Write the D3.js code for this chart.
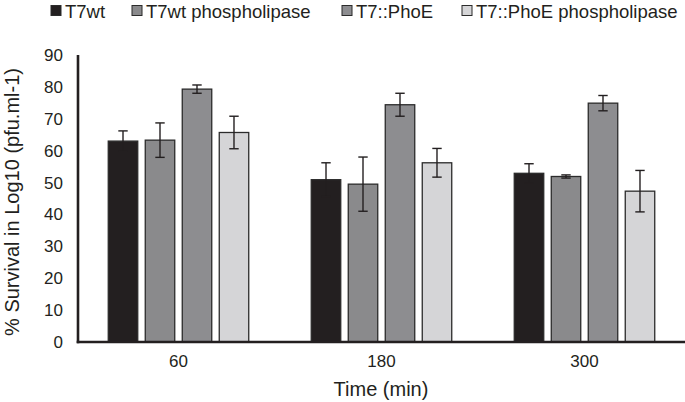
<!DOCTYPE html>
<html><head><meta charset="utf-8">
<script src="https://cdn.jsdelivr.net/npm/d3@7"></script>
<style>body{margin:0;background:#fff}svg{display:block}text{font-family:"Liberation Sans",Arial,sans-serif;fill:#231f20}</style>
</head><body><svg id="c" width="685" height="402"></svg>
<script>
const categories = ["60", "180", "300"];
const seriesNames = ["T7wt", "T7wt phospholipase", "T7::PhoE", "T7::PhoE phospholipase"];
const t7wt = [63.0, 50.9, 52.9];
const t7wtErr = [3.2, 5.3, 3.0];
const t7wtPhos = [63.3, 49.5, 51.9];
const t7wtPhosErr = [5.4, 8.5, 0.5];
const phoE = [79.3, 74.4, 74.9];
const phoEErr = [1.3, 3.6, 2.4];
const phoEPhos = [65.7, 56.2, 47.3];
const phoEPhosErr = [5.1, 4.5, 6.5];
const yTicks = [0, 10, 20, 30, 40, 50, 60, 70, 80, 90];
const colors = ["#231f20", "#8a8a8c", "#8d8d90", "#d5d5d7"];

const values = [t7wt, t7wtPhos, phoE, phoEPhos];
const errs = [t7wtErr, t7wtPhosErr, phoEErr, phoEPhosErr];
const rows = [];
categories.forEach((c, i) => seriesNames.forEach((s, j) => rows.push({cat: c, s, v: values[j][i], e: errs[j][i], j})));

const svg = d3.select("#c");
const x0 = d3.scaleBand().domain(categories).range([77, 686]).padding(0);
const x1 = d3.scaleBand().domain(seriesNames).range([0, x0.bandwidth()]).paddingInner(0.203).paddingOuter(0.845);
const y = d3.scaleLinear().domain([0, 90]).range([342, 55]);

// bars
svg.append("g").selectAll("rect").data(rows).join("rect")
  .attr("x", d => x0(d.cat) + x1(d.s))
  .attr("y", d => y(d.v))
  .attr("width", x1.bandwidth())
  .attr("height", d => y(0) - y(d.v))
  .attr("fill", d => colors[d.j])
  .attr("stroke", "#2b2b2b").attr("stroke-width", 1.3);

// error bars
const eg = svg.append("g").attr("stroke", "#231f20").attr("stroke-width", 1.4);
rows.forEach(d => {
  const cx = x0(d.cat) + x1(d.s) + x1.bandwidth() / 2;
  eg.append("line").attr("x1", cx).attr("x2", cx).attr("y1", y(d.v + d.e)).attr("y2", y(d.v - d.e));
  [d.v + d.e, d.v - d.e].forEach(v => eg.append("line").attr("x1", cx - 4.7).attr("x2", cx + 4.7).attr("y1", y(v)).attr("y2", y(v)));
});

// axes
const yAxis = d3.axisLeft(y).tickValues(yTicks).tickSize(0).tickPadding(15);
const gy = svg.append("g").attr("transform", "translate(78,0)").call(yAxis);
gy.select(".domain").remove();
gy.selectAll("text").style("font-size", "17px").attr("fill", "#231f20");
svg.append("line").attr("x1", 78).attr("x2", 78).attr("y1", y(90)).attr("y2", y(0) + 1.2).attr("stroke", "#231f20").attr("stroke-width", 2.6);

const xAxis = d3.axisBottom(x0).tickSize(0).tickPadding(13);
const gx = svg.append("g").attr("transform", "translate(0,342)").call(xAxis);
gx.select(".domain").remove();
gx.selectAll("text").style("font-size", "17px").attr("fill", "#231f20");
svg.append("line").attr("x1", 76.7).attr("x2", 685).attr("y1", 342).attr("y2", 342).attr("stroke", "#231f20").attr("stroke-width", 2.6);

// axis titles
svg.append("text").attr("x", 381).attr("y", 396)
  .attr("text-anchor", "middle").style("font-size", "20px").text("Time (min)");
svg.append("text").attr("transform", "translate(19,202) rotate(-90)")
  .attr("text-anchor", "middle").style("font-size", "20px").text("% Survival in Log10 (pfu.ml-1)");

// legend
const legX = [51, 132, 342, 462];
const lg = svg.append("g");
seriesNames.forEach((s, j) => {
  lg.append("rect").attr("x", legX[j]).attr("y", 5.5).attr("width", 10).attr("height", 10)
    .attr("fill", colors[j]).attr("stroke", "#2b2b2b").attr("stroke-width", 1);
  lg.append("text").attr("x", legX[j] + 14).attr("y", 17.5).style("font-size", "18.5px").text(s);
});
</script></body></html>
